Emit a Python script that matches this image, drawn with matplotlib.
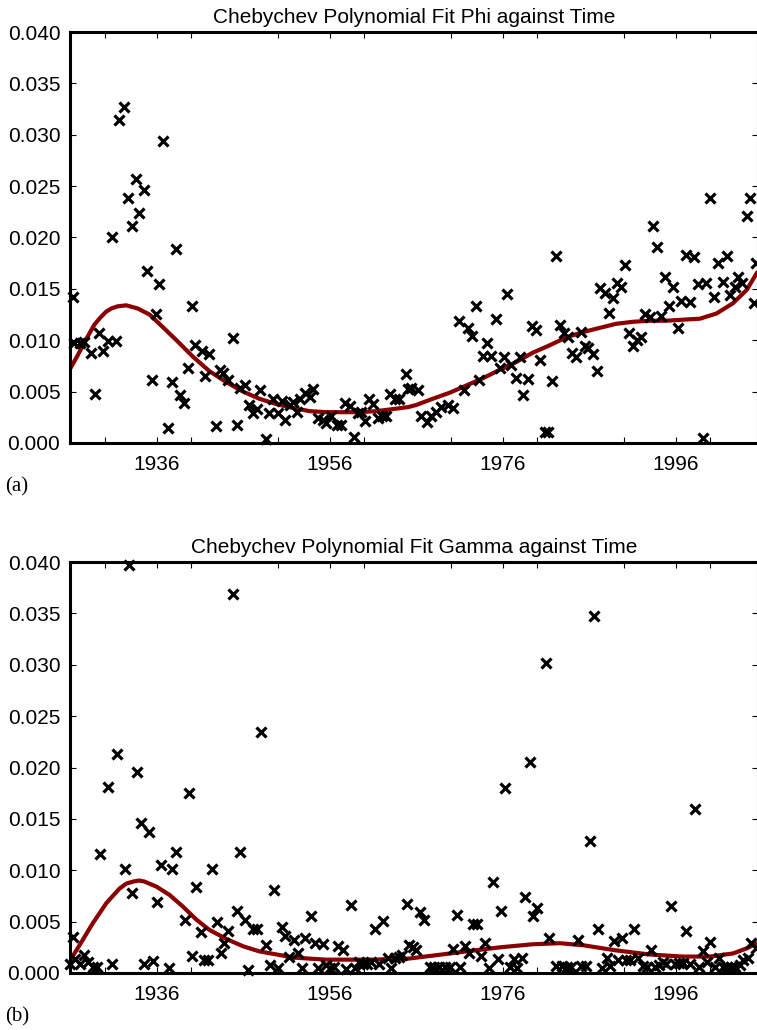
import numpy as np
import matplotlib.pyplot as plt
from matplotlib.ticker import MultipleLocator, FormatStrFormatter

plt.rcParams['font.family'] = ['Liberation Sans', 'DejaVu Sans']

# ---------------- Panel (a): Phi ----------------
phi_years = [1926.3, 1926.5, 1927.1, 1927.6, 1928.4, 1928.9, 1929.4, 1929.8, 1930.4, 1930.8,
             1931.3, 1931.7, 1932.2, 1932.7, 1933.2, 1933.6, 1934.0, 1934.5, 1934.9, 1935.5,
             1935.9, 1936.3, 1936.8, 1937.3, 1937.8, 1938.2, 1938.7, 1939.2, 1939.6, 1940.1,
             1940.5, 1941.2, 1941.6, 1942.1, 1942.9, 1943.3, 1943.7, 1944.2, 1944.8, 1945.3,
             1945.7, 1946.2, 1946.7, 1947.1, 1947.6, 1948.0, 1948.6, 1949.0, 1949.5, 1950.0,
             1950.5, 1950.9, 1951.4, 1951.8, 1952.2, 1952.6, 1953.2, 1953.7, 1954.1, 1954.6,
             1955.2, 1955.6, 1956.2, 1956.8, 1957.3, 1957.8, 1958.3, 1958.8, 1959.3, 1959.6,
             1960.1, 1960.6, 1961.0, 1961.6, 1962.1, 1962.5, 1963.0, 1963.5, 1964.0, 1964.8,
             1965.0, 1965.4, 1966.2, 1966.6, 1967.2, 1967.7, 1968.3, 1968.9, 1969.7, 1970.3,
             1970.9, 1971.5, 1972.0, 1972.4, 1972.9, 1973.3, 1973.7, 1974.2, 1974.7, 1975.2,
             1975.7, 1976.1, 1976.5, 1977.0, 1977.5, 1978.0, 1978.4, 1978.9, 1979.4, 1979.9,
             1980.3, 1980.9, 1981.2, 1981.7, 1982.2, 1982.6, 1983.1, 1983.5, 1984.0, 1984.5,
             1985.0, 1985.5, 1985.9, 1986.4, 1986.9, 1987.3, 1987.8, 1988.3, 1988.7, 1989.2,
             1989.7, 1990.1, 1990.6, 1991.1, 1991.5, 1992.0, 1992.5, 1993.0, 1993.4, 1993.8,
             1994.3, 1994.8, 1995.2, 1995.7, 1996.3, 1996.6, 1997.2, 1997.6, 1998.1, 1998.6,
             1999.1, 1999.5, 2000.0, 2000.4, 2000.9, 2001.4, 2001.9, 2002.3, 2002.8, 2003.2,
             2003.7, 2004.2, 2004.6, 2005.0, 2005.3]
phi_values = [0.0142, 0.0097, 0.0097, 0.0098, 0.0088, 0.0048, 0.0107, 0.0090, 0.0099, 0.0200,
              0.0099, 0.0314, 0.0327, 0.0238, 0.0211, 0.0257, 0.0224, 0.0246, 0.0167, 0.0061,
              0.0126, 0.0155, 0.0294, 0.0015, 0.0059, 0.0189, 0.0047, 0.0039, 0.0073, 0.0133,
              0.0095, 0.0090, 0.0065, 0.0087, 0.0017, 0.0071, 0.0068, 0.0061, 0.0102, 0.0018,
              0.0054, 0.0056, 0.0037, 0.0029, 0.0033, 0.0052, 0.0004, 0.0029, 0.0043, 0.0029,
              0.0041, 0.0022, 0.0037, 0.0040, 0.0030, 0.0043, 0.0049, 0.0045, 0.0053, 0.0024,
              0.0022, 0.0019, 0.0026, 0.0018, 0.0018, 0.0039, 0.0036, 0.0006, 0.0029, 0.0030,
              0.0021, 0.0043, 0.0038, 0.0024, 0.0026, 0.0026, 0.0048, 0.0043, 0.0043, 0.0067,
              0.0053, 0.0054, 0.0052, 0.0026, 0.0020, 0.0026, 0.0030, 0.0035, 0.0037, 0.0034,
              0.0119, 0.0052, 0.0112, 0.0104, 0.0133, 0.0061, 0.0085, 0.0097, 0.0085, 0.0121,
              0.0073, 0.0084, 0.0145, 0.0076, 0.0063, 0.0084, 0.0047, 0.0062, 0.0114, 0.0110,
              0.0081, 0.0011, 0.0011, 0.0060, 0.0182, 0.0115, 0.0107, 0.0103, 0.0088, 0.0084,
              0.0108, 0.0094, 0.0092, 0.0087, 0.0070, 0.0151, 0.0146, 0.0127, 0.0141, 0.0156,
              0.0152, 0.0173, 0.0107, 0.0094, 0.0100, 0.0103, 0.0126, 0.0123, 0.0211, 0.0191,
              0.0124, 0.0162, 0.0133, 0.0152, 0.0112, 0.0138, 0.0183, 0.0137, 0.0181, 0.0155,
              0.0005, 0.0156, 0.0238, 0.0142, 0.0175, 0.0157, 0.0182, 0.0144, 0.0152, 0.0162,
              0.0156, 0.0221, 0.0238, 0.0136, 0.0175]

phi_fit_years = [1926.0, 1926.8, 1927.5, 1928.2, 1928.8, 1929.5, 1930.2, 1930.8, 1931.5, 1932.5,
                 1933.8, 1935.2, 1936.7, 1938.3, 1940.2, 1942.1, 1944.1, 1946.0, 1947.9, 1949.8,
                 1951.8, 1953.7, 1955.6, 1957.6, 1959.5, 1961.4, 1963.3, 1965.1, 1966.0, 1967.9,
                 1969.9, 1971.8, 1973.7, 1975.6, 1977.6, 1979.5, 1981.4, 1983.4, 1985.3, 1987.2,
                 1989.1, 1991.1, 1993.0, 1994.9, 1996.8, 1998.8, 2000.7, 2002.6, 2004.2, 2005.4]
phi_fit_values = [0.0072, 0.0084, 0.0095, 0.0106, 0.0115, 0.0122, 0.0128, 0.0131, 0.0133, 0.0134,
                  0.0131, 0.0125, 0.0113, 0.0100, 0.0084, 0.0070, 0.0059, 0.0050, 0.0043, 0.0038,
                  0.0034, 0.0031, 0.0030, 0.0030, 0.0030, 0.0031, 0.0033, 0.0035, 0.0037, 0.0043,
                  0.0049, 0.0056, 0.0063, 0.0071, 0.0079, 0.0088, 0.0095, 0.0103, 0.0108, 0.0112,
                  0.0116, 0.0118, 0.0119, 0.0119, 0.0120, 0.0121, 0.0126, 0.0136, 0.0149, 0.0166]

# ---------------- Panel (b): Gamma ----------------
gamma_years = [1926.0, 1926.3, 1926.6, 1927.2, 1927.6, 1928.1, 1928.6, 1929.1, 1929.5, 1930.4,
               1930.9, 1931.4, 1932.3, 1932.8, 1933.2, 1933.7, 1934.2, 1934.6, 1935.1, 1935.6,
               1936.0, 1936.5, 1937.4, 1937.8, 1938.3, 1939.3, 1939.7, 1940.1, 1940.6, 1941.1,
               1941.5, 1942.0, 1942.4, 1943.0, 1943.4, 1943.8, 1944.3, 1944.8, 1945.3, 1945.7,
               1946.2, 1946.6, 1947.1, 1947.6, 1948.1, 1948.6, 1949.1, 1949.6, 1950.0, 1950.5,
               1950.9, 1951.3, 1951.9, 1952.3, 1952.8, 1953.2, 1953.8, 1954.3, 1954.7, 1955.2,
               1955.6, 1956.1, 1956.5, 1957.0, 1957.5, 1957.9, 1958.5, 1958.9, 1959.4, 1959.8,
               1960.3, 1960.8, 1961.2, 1961.7, 1962.2, 1962.7, 1963.1, 1963.5, 1964.0, 1964.4,
               1964.9, 1965.2, 1965.6, 1966.0, 1966.5, 1966.9, 1967.6, 1968.1, 1968.6, 1969.3,
               1969.9, 1970.2, 1970.7, 1971.1, 1971.6, 1972.1, 1972.6, 1973.0, 1973.5, 1973.9,
               1974.4, 1974.9, 1975.4, 1975.8, 1976.3, 1976.8, 1977.3, 1977.7, 1978.2, 1978.6,
               1979.1, 1979.5, 1980.0, 1981.0, 1981.4, 1982.2, 1982.8, 1983.4, 1983.9, 1984.7,
               1985.1, 1985.6, 1986.1, 1986.5, 1987.0, 1987.5, 1988.0, 1988.4, 1988.9, 1989.3,
               1989.8, 1990.3, 1990.7, 1991.2, 1991.6, 1992.2, 1992.7, 1993.1, 1993.6, 1994.1,
               1994.5, 1994.9, 1995.4, 1995.9, 1996.4, 1996.8, 1997.2, 1997.7, 1998.2, 1998.7,
               1999.2, 1999.6, 2000.0, 2000.5, 2001.0, 2001.5, 2001.9, 2002.4, 2002.9, 2003.4,
               2003.8, 2004.3, 2004.7, 2005.3]
gamma_values = [0.0009, 0.0035, 0.0014, 0.0009, 0.0018, 0.0011, 0.0006, 0.0006, 0.0116, 0.0181,
                0.0009, 0.0213, 0.0101, 0.0397, 0.0078, 0.0196, 0.0146, 0.0009, 0.0137, 0.0012,
                0.0069, 0.0105, 0.0005, 0.0101, 0.0118, 0.0052, 0.0175, 0.0017, 0.0084, 0.0040,
                0.0013, 0.0013, 0.0101, 0.0050, 0.0019, 0.0029, 0.0041, 0.0369, 0.0060, 0.0118,
                0.0052, 0.0003, 0.0043, 0.0043, 0.0235, 0.0027, 0.0008, 0.0081, 0.0005, 0.0045,
                0.0036, 0.0016, 0.0032, 0.0019, 0.0005, 0.0034, 0.0055, 0.0029, 0.0005, 0.0028,
                0.0008, 0.0005, 0.0006, 0.0026, 0.0022, 0.0004, 0.0066, 0.0005, 0.0011, 0.0009,
                0.0009, 0.0011, 0.0043, 0.0009, 0.0051, 0.0015, 0.0005, 0.0015, 0.0016, 0.0018,
                0.0067, 0.0027, 0.0025, 0.0022, 0.0059, 0.0052, 0.0006, 0.0006, 0.0006, 0.0006,
                0.0006, 0.0023, 0.0056, 0.0006, 0.0026, 0.0019, 0.0048, 0.0048, 0.0017, 0.0029,
                0.0005, 0.0089, 0.0014, 0.0060, 0.0180, 0.0006, 0.0014, 0.0005, 0.0015, 0.0074,
                0.0205, 0.0055, 0.0063, 0.0302, 0.0034, 0.0007, 0.0007, 0.0006, 0.0006, 0.0032,
                0.0007, 0.0007, 0.0128, 0.0347, 0.0043, 0.0005, 0.0015, 0.0007, 0.0031, 0.0013,
                0.0034, 0.0013, 0.0013, 0.0043, 0.0015, 0.0007, 0.0006, 0.0022, 0.0006, 0.0008,
                0.0011, 0.0009, 0.0065, 0.0009, 0.0010, 0.0010, 0.0041, 0.0009, 0.0160, 0.0006,
                0.0021, 0.0011, 0.0030, 0.0006, 0.0015, 0.0006, 0.0006, 0.0006, 0.0006, 0.0008,
                0.0013, 0.0015, 0.0029, 0.0024]

gamma_fit_years = [1926.0, 1927.1, 1928.6, 1930.2, 1931.7, 1932.5, 1933.3, 1934.0, 1934.6, 1936.0,
                   1937.5, 1939.0, 1940.6, 1942.1, 1944.1, 1946.0, 1947.9, 1949.9, 1951.8, 1953.7,
                   1955.6, 1957.6, 1959.5, 1961.4, 1963.4, 1965.1, 1968.0, 1971.8, 1975.7, 1979.5,
                   1982.6, 1985.3, 1989.1, 1993.0, 1996.8, 1999.9, 2002.6, 2004.2, 2005.4]
gamma_fit_values = [0.0012, 0.0027, 0.0048, 0.0068, 0.0082, 0.0087, 0.0089, 0.0090, 0.0089, 0.0084,
                    0.0076, 0.0065, 0.0052, 0.0042, 0.0033, 0.0026, 0.0021, 0.0018, 0.0015, 0.0014,
                    0.0013, 0.0013, 0.0013, 0.0013, 0.0014, 0.0014, 0.0017, 0.0021, 0.0025, 0.0028,
                    0.0029, 0.0027, 0.0022, 0.0018, 0.0016, 0.0016, 0.0019, 0.0024, 0.0029]

panels = [
    ('Chebychev Polynomial Fit Phi against Time', phi_years, phi_values,
     phi_fit_years, phi_fit_values, '(a)'),
    ('Chebychev Polynomial Fit Gamma against Time', gamma_years, gamma_values,
     gamma_fit_years, gamma_fit_values, '(b)'),
]

W, H = 757, 1030
fig = plt.figure(figsize=(W / 100, H / 100), dpi=100)
# axes boxes in pixels: (left, top, right, bottom)
boxes = [(70, 32, 758, 443), (70, 562, 758, 973)]
letter_y = [487, 1017]

for (title, xs, ys, fx, fy, letter), (l, t, r, b), ly in zip(panels, boxes, letter_y):
    ax = fig.add_axes([l / W, 1 - b / H, (r - l) / W, (b - t) / H])
    ax.plot(fx, fy, color='#8b0000', lw=3.0, zorder=2,
            solid_capstyle='round', solid_joinstyle='round')
    ax.plot(xs, ys, ls='none', marker='x', color='black', ms=7, mew=2.3, zorder=3,
            clip_on=False)
    ax.set_xlim(1926, 2005.5)
    ax.set_ylim(0, 0.040)
    ax.xaxis.set_minor_locator(MultipleLocator(10))
    ax.set_xticks([1936, 1956, 1976, 1996])
    ax.yaxis.set_major_locator(MultipleLocator(0.005))
    ax.yaxis.set_major_formatter(FormatStrFormatter('%.3f'))
    ax.tick_params(which='both', direction='in', top=True, right=True,
                   length=4.5, width=0.8, labelsize=15)
    ax.tick_params(axis='y', pad=7)
    ax.tick_params(axis='x', pad=9)
    for s in ax.spines.values():
        s.set_linewidth(2.2)
    ax.set_title(title, fontsize=15, pad=6.5)
    fig.text(5 / W, 1 - ly / H, letter, family=['Liberation Serif'], fontsize=15,
             ha='left', va='center')

fig.savefig('out.png', dpi=100, facecolor='white')
